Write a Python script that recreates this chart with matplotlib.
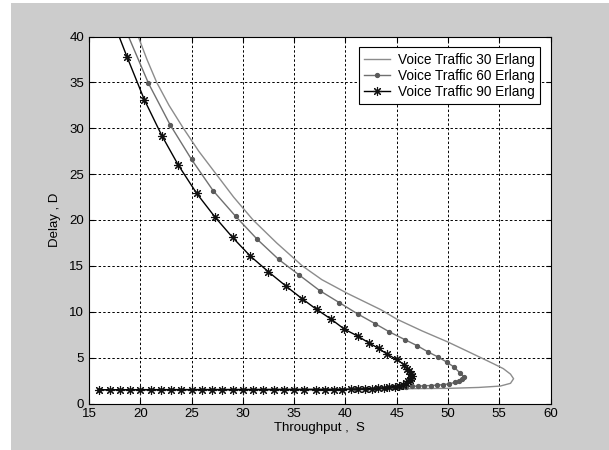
import matplotlib
matplotlib.use("Agg")
import matplotlib.pyplot as plt
from matplotlib.patches import Rectangle

plt.rcParams['font.family'] = ['Liberation Sans', 'DejaVu Sans']

# Voice Traffic 30 Erlang (plain line)
s30 = [16.0, 30.0, 40.0, 45.0, 50.0, 53.0, 55.1, 56.1, 56.4, 56.1, 55.4, 54.5,
       53.2, 51.7, 50.0, 47.5, 45.0, 43.5, 40.2, 37.7, 35.8, 33.3, 31.0, 29.1,
       27.4, 25.7, 24.2, 22.8, 21.6, 20.65, 19.8, 19.5]
d30 = [1.5, 1.5, 1.55, 1.6, 1.65, 1.75, 1.9, 2.2, 2.7, 3.2, 3.8, 4.3,
       5.0, 5.8, 6.7, 7.9, 9.2, 10.2, 12.0, 13.5, 15.0, 17.5, 20.0, 22.5,
       25.0, 27.5, 30.0, 32.5, 35.0, 37.5, 40.0, 41.0]

# Voice Traffic 60 Erlang (dots)
s60 = [16.0, 41.0, 42.0, 43.0, 44.0, 44.7, 45.3, 45.9, 46.5, 47.1, 47.7, 48.3,
       48.9, 49.5, 50.1, 50.7, 51.1, 51.4, 51.55, 51.2, 50.6, 49.9, 49.05, 48.1,
       47.0, 45.8, 44.3, 42.9, 41.2, 39.4, 37.5, 35.5, 33.5, 31.4, 29.3, 27.1,
       25.0, 22.9, 20.8, 18.7]
d60 = [1.5, 1.6, 1.62, 1.65, 1.7, 1.75, 1.8, 1.84, 1.87, 1.9, 1.93, 1.96,
       2.0, 2.05, 2.15, 2.3, 2.45, 2.65, 2.9, 3.3, 3.97, 4.5, 5.06, 5.6,
       6.3, 6.96, 7.8, 8.7, 9.76, 11.0, 12.3, 14.0, 15.7, 17.9, 20.4, 23.2,
       26.6, 30.4, 34.9, 40.4]

# Voice Traffic 90 Erlang (stars)
s90 = [16, 17, 18, 19, 20, 21, 22, 23, 24, 25, 26, 27, 28, 29, 30, 31, 32, 33,
       34, 35, 36, 37.1, 38.0, 38.9, 39.7, 40.5, 41.2, 41.9, 42.6, 43.2, 43.8,
       44.3, 44.8, 45.2, 45.6, 45.9, 46.15, 46.3, 46.4, 46.45, 46.4, 46.25,
       46.05, 45.7, 45.0, 44.1, 43.25, 42.3, 41.2, 39.9, 38.6, 37.2, 35.8, 34.2,
       32.5, 30.7, 29.0, 27.3, 25.5, 23.7, 22.1, 20.4, 18.7, 17.0]
d90 = [1.5] * 21 + [1.5, 1.5, 1.5, 1.52, 1.55, 1.57, 1.6, 1.63, 1.67, 1.72,
       1.78, 1.85, 1.95, 2.05, 2.2, 2.4, 2.6, 2.8, 3.0, 3.25, 3.5, 3.8, 4.25,
       4.8, 5.35, 6.0, 6.6, 7.35, 8.1, 9.2, 10.25, 11.4, 12.8, 14.35, 16.1,
       18.1, 20.3, 22.9, 26.0, 29.2, 33.1, 37.8, 42.7]

xticks = [15, 20, 25, 30, 35, 40, 45, 50, 55, 60]
yticks = [0, 5, 10, 15, 20, 25, 30, 35, 40]

fig = plt.figure(figsize=(6.09, 4.5), dpi=100, facecolor='white')
# grey window area, white strip at left and top
fig.patches.append(Rectangle((11 / 609, 0), 1, 447 / 450, transform=fig.transFigure,
                             facecolor='#cccccc', edgecolor='none', zorder=-10))

ax = fig.add_axes([89 / 609, (450 - 403.5) / 450, 461.5 / 609, 367 / 450])
ax.set_facecolor('white')

ax.plot(s30, d30, '-', color='#8c8c8c', lw=1.0, label='Voice Traffic 30 Erlang')
ax.plot(s60, d60, '-', color='#707070', lw=1.0, marker='o', ms=2.8,
        mfc='#5a5a5a', mec='#5a5a5a', label='Voice Traffic 60 Erlang')
ax.plot(s90, d90, '-', color='black', lw=1.0, marker=(8, 2, 0), ms=6.5,
        mew=0.8, mec='#111111', label='Voice Traffic 90 Erlang')

ax.set_xlim(15, 60)
ax.set_ylim(0, 40)
ax.set_xticks(xticks)
ax.set_yticks(yticks)
ax.grid(True, color='black', linestyle=(0, (2.5, 2.2)), lw=0.7)
ax.tick_params(direction='in', length=3.5, top=True, right=True,
               labelsize=9.5, width=0.8)
for sp in ax.spines.values():
    sp.set_linewidth(0.8)

ax.set_xlabel('Throughput ,  S', fontsize=9.5, labelpad=1)
ax.set_ylabel('Delay , D', fontsize=9.5, labelpad=6)

leg = ax.legend(loc='upper right', bbox_to_anchor=(0.977, 0.971),
                borderaxespad=0, fancybox=False, edgecolor='black',
                fontsize=9.8, handlelength=1.85, labelspacing=0.15,
                borderpad=0.4, handletextpad=0.6, framealpha=1)
leg.get_frame().set_linewidth(0.8)

fig.savefig('out.png', dpi=100, facecolor=fig.get_facecolor())
